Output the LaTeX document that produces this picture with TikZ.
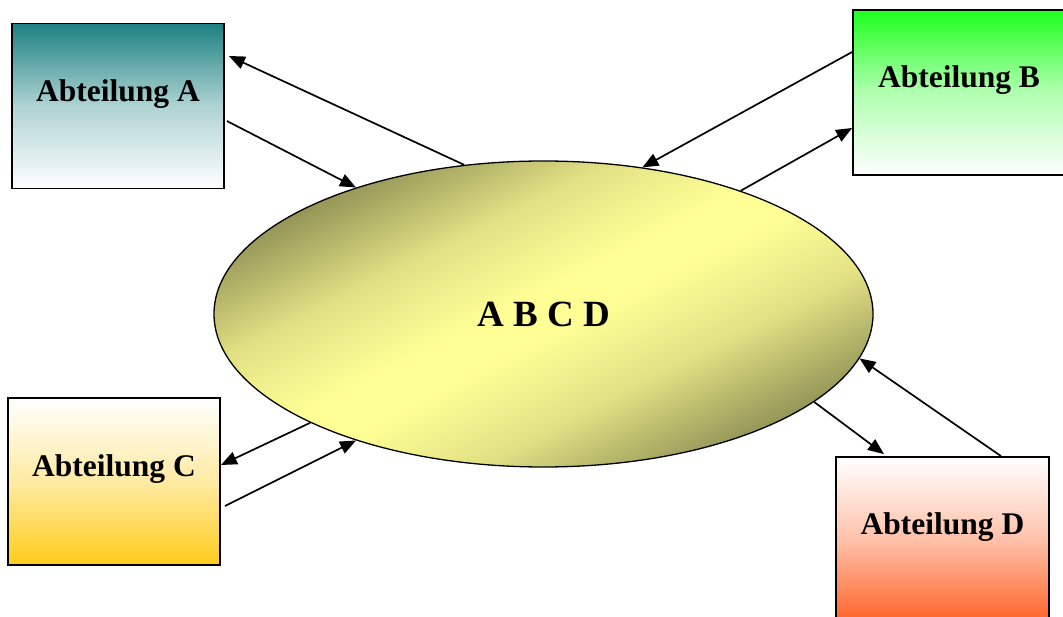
\documentclass[tikz,border=0pt]{standalone}
\usepackage{fontspec}
\setmainfont{Liberation Serif}
\usetikzlibrary{arrows.meta,shapes.geometric,calc}
\definecolor{olv}{RGB}{150,150,88}
\definecolor{yel}{RGB}{255,255,150}
\definecolor{tealA}{RGB}{28,128,128}
\definecolor{grnB}{RGB}{30,255,30}
\definecolor{gldC}{RGB}{255,204,26}
\definecolor{orgD}{RGB}{255,100,40}
\colorlet{ymid}{yel!72!olv}
\pgfdeclarehorizontalshading{ellshade}{100bp}{color(0bp)=(olv); color(35.6bp)=(olv); color(42.5bp)=(ymid); color(48.5bp)=(yel); color(51.5bp)=(yel); color(57.5bp)=(ymid); color(64.4bp)=(olv); color(100bp)=(olv)}
\tikzset{
  dept/.style={draw=black, line width=1.8pt, rectangle, inner sep=0pt, minimum width=212pt, minimum height=165pt},
  lbl/.style={font=\bfseries\fontsize{31.5}{36}\selectfont, yshift=12pt},
  arr/.style={line width=1.7pt, -{Triangle[length=16pt,width=13pt]}},
}
\begin{document}
\begin{tikzpicture}[x=1pt,y=-1pt]
\clip (0,0) rectangle (1063,617);
\fill[white] (0,0) rectangle (1063,617);
\node[ellipse, draw=black, line width=1.3pt, inner sep=0pt, minimum width=659pt, minimum height=306pt,
  font=\bfseries\fontsize{37}{40}\selectfont,
  path picture={\shade[shading=ellshade, shading angle=-63] ($(path picture bounding box.center)+(-350,-350)$) rectangle ($(path picture bounding box.center)+(350,350)$);}]
  (E) at (543.5,314) {A B C D};
\node[dept, top color=tealA, bottom color=white, middle color=tealA!35!white,
  label={[lbl]center:Abteilung A}] (A) at (118,106) {};
\node[dept, top color=grnB, bottom color=white, middle color=grnB!35!white,
  label={[lbl]center:Abteilung B}] (B) at (959,92.5) {};
\node[dept, top color=white, bottom color=gldC, middle color=gldC!40!white, minimum height=167pt,
  label={[lbl]center:Abteilung C}] (C) at (114,481.5) {};
\node[dept, top color=white, bottom color=orgD, middle color=orgD!40!white, minimum width=213pt,
  label={[lbl]center:Abteilung D}] (D) at (942.5,539.5) {};
\draw[arr] (E.118) -- ([shift={(4,-50)}]A.east);
\draw[arr] ([shift={(2,15)}]A.east) -- (E.146);
\draw[arr] ([shift={(0,-40.5)}]B.west) -- (E.56);
\draw[arr] (E.32) -- ([shift={(0,35.5)}]B.west);
\draw[arr] (E.205) -- ([shift={(0,-16.5)}]C.east);
\draw[arr] ([shift={(4,24.5)}]C.east) -- (E.214);
\draw[arr] ([shift={(58.5,0)}]D.north) -- (E.352);
\draw[arr] (E.342) -- ([shift={(-58.5,-2)}]D.north);
\end{tikzpicture}
\end{document}
